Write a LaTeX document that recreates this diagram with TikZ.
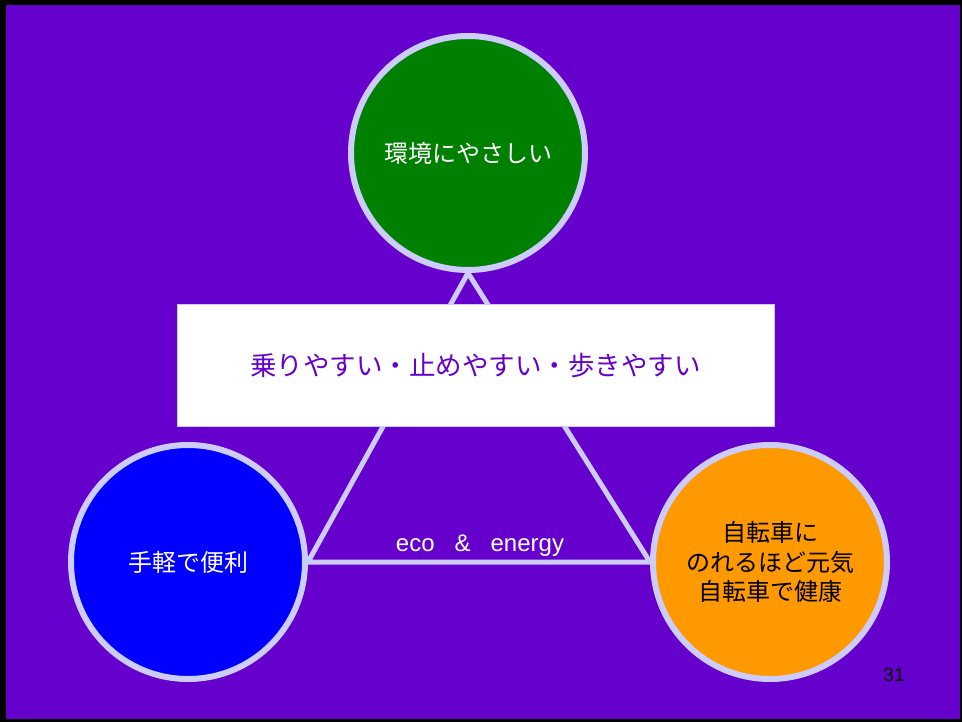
\documentclass[tikz,border=0pt]{standalone}
\usepackage{fontspec}
\setmainfont{Liberation Sans}
\newfontfamily\jpfont{Noto Sans CJK JP}
\usepackage{tikz}
\usetikzlibrary{positioning,calc}
\usepackage{xcolor}
\definecolor{slidebg}{HTML}{6600CC}
\definecolor{rim}{HTML}{CCCCFF}
\definecolor{ecogreen}{HTML}{008000}
\definecolor{easyblue}{HTML}{0000FF}
\definecolor{healthorange}{HTML}{FF9900}
\pgfdeclarelayer{back}
\pgfdeclarelayer{lines}
\pgfsetlayers{back,lines,main}

\begin{document}
\begin{tikzpicture}[x=1pt, y=-1pt,
    bubble/.style={circle, minimum size=234pt, inner sep=0pt, line width=6pt,
      draw=rim, align=center, font=\jpfont\fontsize{24pt}{29.5pt}\selectfont},
    tri/.style={draw=rim, line width=5pt}]
  \useasboundingbox (0,0) rectangle (962,722);
  \begin{pgfonlayer}{back}
    \fill[black] (0,0) rectangle (962,722);
    \fill[slidebg] (6,5) rectangle (960,719);
  \end{pgfonlayer}
  % three circles
  \node[bubble, fill=ecogreen, text=white] (eco) at (468,153) {環境にやさしい};
  \node[bubble, fill=easyblue, text=white] (handy) at (188,562) {手軽で便利};
  \node[bubble, fill=healthorange, text=black] (health) at (770,562)
    {自転車に\\のれるほど元気\\自転車で健康};
  % banner
  \node[fill=white, draw=rim, line width=1pt, minimum width=597pt, minimum height=121pt,
    text=slidebg, font=\jpfont\fontsize{26.5pt}{30pt}\selectfont] (banner) at (475.5,365.5)
    {乗りやすい・止めやすい・歩きやすい};
  \begin{pgfonlayer}{lines}
    \draw[tri] (eco.south) -- (handy.east) -- (health.west) -- cycle;
  \end{pgfonlayer}
  \path (handy.east) -- node[above=2pt, xshift=1pt, text=white, font=\fontsize{24pt}{27pt}\selectfont] (motto)
    {eco\hspace{20pt}\&\hspace{20pt}energy} (health.west);
  \node[font=\fontsize{19pt}{22pt}\selectfont] (pageno) at (894,675) {31};
\end{tikzpicture}
\end{document}
